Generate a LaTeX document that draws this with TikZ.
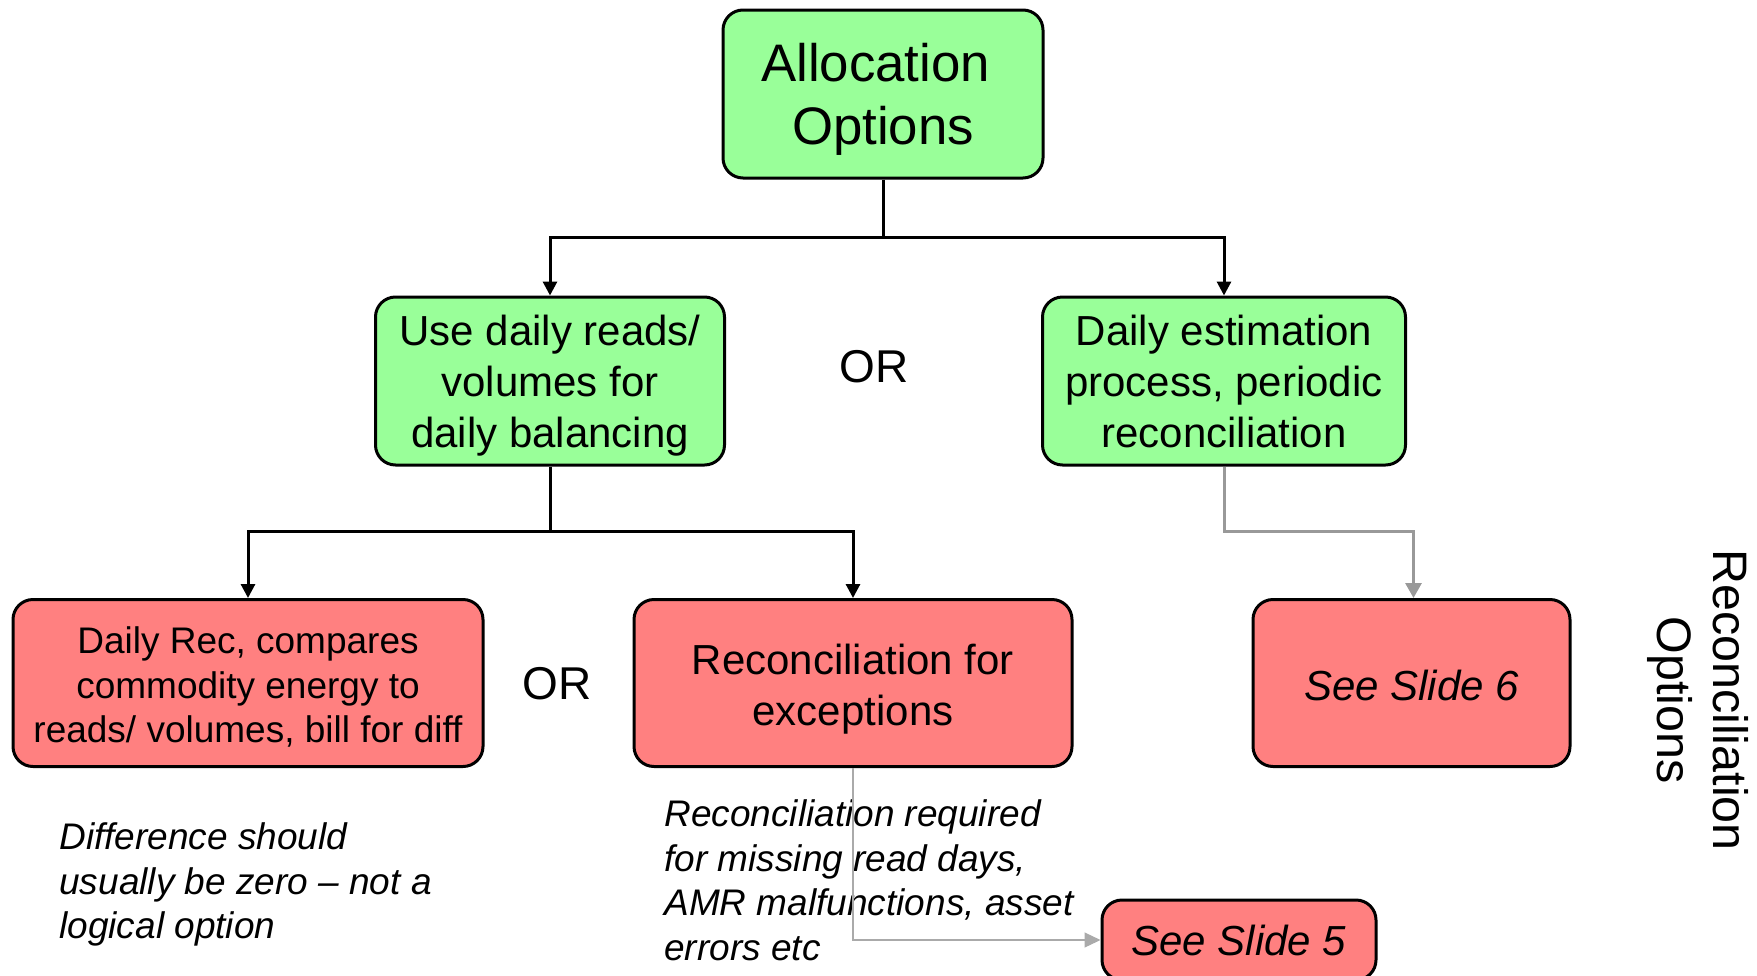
\documentclass[tikz,border=0pt]{standalone}
\usepackage{fontspec}
\setmainfont{Liberation Sans}
\usetikzlibrary{arrows.meta}
\definecolor{boxgreen}{RGB}{153,255,153}
\definecolor{boxred}{RGB}{255,128,128}
\definecolor{conngray}{RGB}{153,153,153}
\definecolor{thingray}{RGB}{170,170,170}
\begin{document}
\begin{tikzpicture}[x=0.5pt,y=-0.5pt,
  box/.style={draw=black, line width=1.5pt, rounded corners=10pt, inner sep=0pt, align=center},
  gbox/.style={box, fill=boxgreen},
  rbox/.style={box, fill=boxred},
  conn/.style={line width=1.5pt, -{Triangle[length=7pt,width=7pt]}},
  grayconn/.style={line width=1.5pt, draw=conngray, -{Triangle[length=7.5pt,width=8pt,fill=conngray]}},
  thinconn/.style={line width=0.6pt, draw=thingray, -{Triangle[length=8pt,width=7.5pt,fill=thingray]}},
  midfont/.style={font=\fontsize{21}{25.5}\selectfont},
  smallfont/.style={font=\fontsize{18.5}{22.4}\selectfont},
  note/.style={inner sep=0pt, align=left, anchor=north west, font=\fontsize{18.5}{22.4}\selectfont\itshape},
  ortext/.style={inner sep=0pt, font=\fontsize{23}{27}\selectfont}
]
\useasboundingbox (0,0) rectangle (1757,975);

\node[gbox, minimum width=160pt, minimum height=84pt, font=\fontsize{26.4}{31.5}\selectfont] (alloc) at (883,94) {Allocation\kern0.278em\\\smash{Options}};
\node[gbox, midfont, minimum width=174.5pt, minimum height=84pt] (use) at (550,381) {Use daily reads/\\volumes for\\\smash{daily balancing}};
\node[gbox, midfont, minimum width=181.5pt, minimum height=84pt] (est) at (1224,381) {Daily estimation\\process, periodic\\reconciliation};
\node[ortext] (or1) at (874,367) {OR};

\node[rbox, smallfont, minimum width=235pt, minimum height=83.5pt] (rec) at (248,683) {\rule{0pt}{15pt}Daily Rec, compares\\commodity energy to\\\smash{reads/ volumes, bill for diff}};
\node[rbox, minimum width=219pt, minimum height=83.5pt, font=\fontsize{21}{25.8}\selectfont] (exc) at (853,683) {\rule{0pt}{17pt}Reconciliation for\\\smash{exceptions}};
\node[rbox, midfont, minimum width=158.5pt, minimum height=83.5pt] (s6) at (1411.5,683) {\rule{0pt}{17.5pt}\itshape See Slide 6};
\node[ortext] (or2) at (557,684) {OR};

\node[rbox, midfont, minimum width=137pt, minimum height=40pt] (s5) at (1239,940) {\itshape See Slide 5};

\node[note] (n1) at (59,822) {Difference should\\usually be zero -- not a\\logical option};
\node[note] (n2) at (664,799) {Reconciliation required\\for missing read days,\\AMR malfunctions, asset\\errors etc};

\node[inner sep=0pt, align=center, rotate=-90, font=\fontsize{24.2}{28}\selectfont] (recopt) at (1698,700) {Reconciliation\\Options};

\coordinate (j1) at (883,237);
\coordinate (j2) at (550,531);
\coordinate (j3) at (1224,531);
\coordinate (j4) at (853,940);

\draw[conn] (alloc.south) -- (j1) -| (use.north);
\draw[conn] (j1) -| (est.north);
\draw[conn] (use.south) -- (j2) -| (rec.north);
\draw[conn] (j2) -| (exc.north);
\draw[grayconn] (est.south) -- (j3) -| ([xshift=1pt]s6.north);
\draw[thinconn] (exc.south) -- (j4) -- (s5.west);
\end{tikzpicture}
\end{document}
